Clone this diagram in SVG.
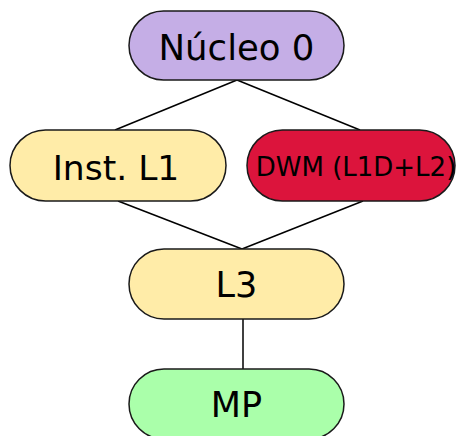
<svg xmlns="http://www.w3.org/2000/svg" width="456" height="436" viewBox="0 0 456 436">
  <style>
    .box { stroke: #1a1a1a; stroke-width: 1.5; }
    .lbl { font-family: "DejaVu Sans", sans-serif; fill: #000; text-anchor: middle; }
    .edge { stroke: #000; stroke-width: 1.5; fill: none; }
  </style>
  <rect width="456" height="436" fill="#fff"/>
  <g id="connectors">
    <line class="edge" x1="237" y1="80" x2="115" y2="130"/>
    <line class="edge" x1="237" y1="80" x2="360" y2="130"/>
    <line class="edge" x1="118" y1="201" x2="242" y2="249"/>
    <line class="edge" x1="363" y1="201" x2="242" y2="249"/>
    <line class="edge" x1="243" y1="319" x2="243" y2="369"/>
  </g>
  <g id="nucleo0">
    <rect class="box" x="129" y="11" width="215" height="69" rx="34.5" fill="#c5aee6"/>
    <text class="lbl" x="236.5" y="60" font-size="35.5">Núcleo 0</text>
  </g>
  <g id="instL1">
    <rect class="box" x="10" y="130" width="216" height="71" rx="35.5" fill="#ffeca8"/>
    <text class="lbl" x="116" y="180" font-size="34.5">Inst. L1</text>
  </g>
  <g id="dwm">
    <rect class="box" x="247" y="130" width="208" height="71" rx="35.5" fill="#dc143c"/>
    <text class="lbl" x="356" y="176" font-size="26">DWM (L1D+L2)</text>
  </g>
  <g id="l3">
    <rect class="box" x="129" y="249" width="215" height="70" rx="35" fill="#ffeca8"/>
    <text class="lbl" x="236.5" y="297" font-size="35">L3</text>
  </g>
  <g id="mp">
    <rect class="box" x="129" y="369" width="215" height="70" rx="35" fill="#aaffaa"/>
    <text class="lbl" x="236.5" y="417" font-size="35">MP</text>
  </g>
</svg>
